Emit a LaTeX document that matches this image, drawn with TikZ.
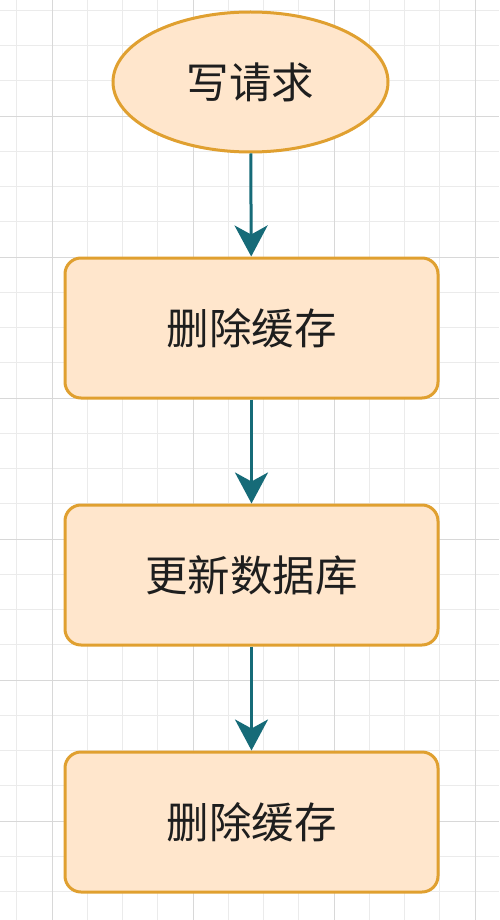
\documentclass[tikz,border=0pt]{standalone}
\usepackage{fontspec}
\newfontfamily\cjk{Noto Sans CJK SC}
\usetikzlibrary{shapes.geometric,arrows.meta}
\definecolor{gridminor}{HTML}{EBEBEB}
\definecolor{gridmajor}{HTML}{D8D8D8}
\definecolor{boxfill}{HTML}{FFE6CC}
\definecolor{boxdraw}{HTML}{E0A030}
\definecolor{arrowcol}{HTML}{166B78}
\definecolor{txt}{HTML}{1E1E1E}
\tikzset{
  stepbox/.style={draw=boxdraw, fill=boxfill, line width=3pt, rounded corners=16pt,
    minimum width=373pt, minimum height=140pt, inner sep=0pt,
    font=\cjk\fontsize{42.5}{50}\selectfont, text=txt},
  startnode/.style={ellipse, draw=boxdraw, fill=boxfill, line width=3pt,
    minimum width=275pt, minimum height=140pt, inner sep=0pt,
    font=\cjk\fontsize{42.5}{50}\selectfont, text=txt},
  flow/.style={draw=arrowcol, line width=3pt, -{Stealth[length=31pt,width=33pt,inset=9pt]}}
}
\begin{document}
\begin{tikzpicture}[x=1pt,y=-1pt]
\useasboundingbox (0,0) rectangle (499,920);
\fill[white] (0,0) rectangle (499,920);
% grid
\foreach \i in {0,...,14} {
  \pgfmathsetmacro{\gx}{16.75+35.25*\i}
  \draw[gridminor, line width=0.8pt] (\gx,0) -- (\gx,920);
}
\foreach \i in {0,...,26} {
  \pgfmathsetmacro{\gy}{10.25+35.25*\i}
  \draw[gridminor, line width=0.8pt] (0,\gy) -- (499,\gy);
}
\foreach \gx in {52,193,334,475} {
  \draw[gridmajor, line width=0.9pt] (\gx,0) -- (\gx,920);
}
\foreach \gy in {116,257,398,539,680,821} {
  \draw[gridmajor, line width=0.9pt] (0,\gy) -- (499,\gy);
}
% nodes
\node[startnode] (start) at (250.5,82) {写请求};
\node[stepbox] (del1) at (251.5,328) {删除缓存};
\node[stepbox] (upd) at (251.5,575) {更新数据库};
\node[stepbox] (del2) at (251.5,822) {删除缓存};
% connectors
\draw[flow] (start) -- (del1);
\draw[flow] (del1) -- (upd);
\draw[flow] (upd) -- (del2);
\end{tikzpicture}
\end{document}
